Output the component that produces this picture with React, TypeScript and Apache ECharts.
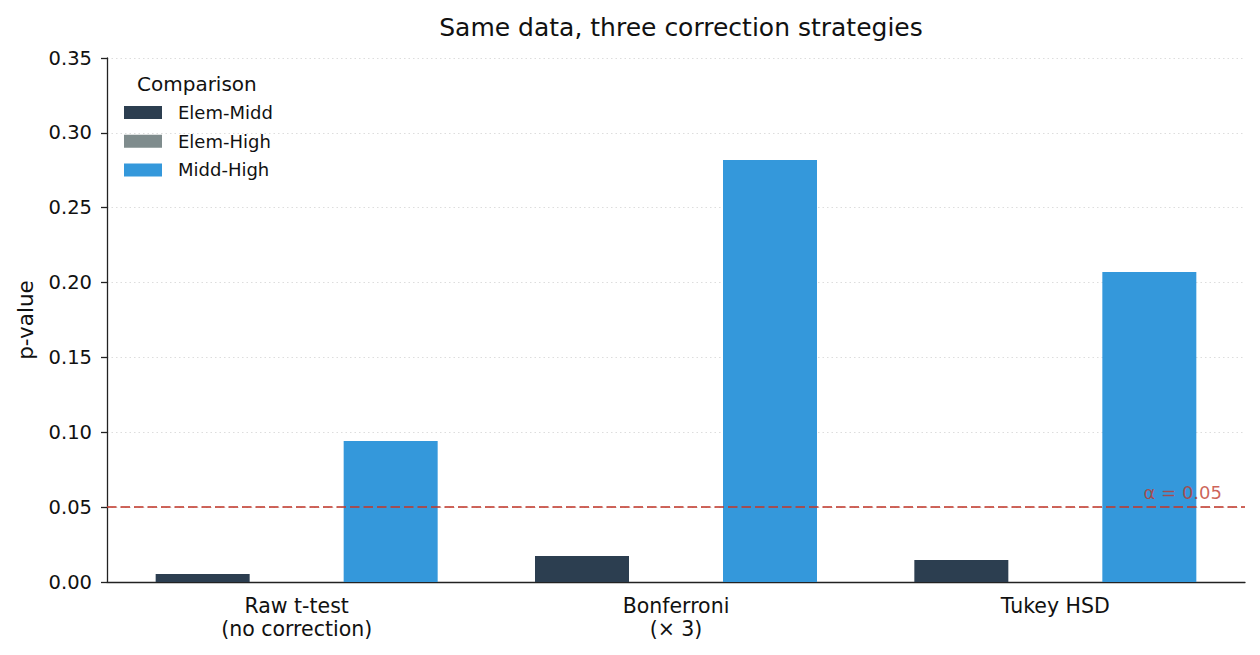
import React, { useEffect, useRef } from "react";
import * as echarts from "echarts";

const categories = ["Raw t-test\n(no correction)", "Bonferroni\n(× 3)", "Tukey HSD"];
const seriesNames = ["Elem-Midd", "Elem-High", "Midd-High"];
const elemMidd = [0.0053, 0.0174, 0.0147];
const elemHigh = [0.00002, 0.00006, 0.00005];
const middHigh = [0.0942, 0.2819, 0.2071];
const colors = ["#2c3e50", "#7f8c8d", "#3498db"];
const alpha = 0.05;
const yTicks = { min: 0, max: 0.35, interval: 0.05 };

export default function App() {
  const ref = useRef<HTMLDivElement>(null);
  useEffect(() => {
    if (!ref.current) return;
    const chart = echarts.init(ref.current, null, { renderer: "svg" });
    const font = "DejaVu Sans";
    const values = [elemMidd, elemHigh, middHigh];
    chart.setOption({
      animation: false,
      textStyle: { fontFamily: font },
      title: {
        text: "Same data, three correction strategies",
        left: 676,
        top: 10,
        textAlign: "center",
        textStyle: { fontFamily: font, fontSize: 25, fontWeight: "normal", color: "#111" },
      },
      graphic: [
        {
          type: "text",
          left: 137,
          top: 74,
          style: { text: "Comparison", fontFamily: font, fontSize: 20, fill: "#111" },
        },
      ],
      legend: {
        orient: "vertical",
        left: 119,
        top: 98.5,
        itemWidth: 38,
        itemHeight: 13,
        itemGap: 10.7,
        icon: "rect",
        data: seriesNames,
        textStyle: { fontFamily: font, fontSize: 18, color: "#111", padding: [0, 0, 0, 11] },
      },
      grid: { left: 107, right: 15, top: 58, bottom: 73 },
      xAxis: {
        type: "category",
        data: categories,
        axisLine: { lineStyle: { color: "#222", width: 1.3 } },
        axisTick: { alignWithLabel: true, length: 6, lineStyle: { color: "#222", width: 1.3 } },
        axisLabel: { fontFamily: font, fontSize: 20.5, color: "#111", margin: 12, lineHeight: 23.5 },
      },
      yAxis: {
        type: "value",
        min: yTicks.min,
        max: yTicks.max,
        interval: yTicks.interval,
        name: "p-value",
        nameLocation: "middle",
        nameGap: 71,
        nameTextStyle: { fontFamily: font, fontSize: 21.5, color: "#111" },
        axisLine: { show: true, lineStyle: { color: "#222", width: 1.3 } },
        axisTick: { show: true, length: 6, lineStyle: { color: "#222", width: 1.3 } },
        axisLabel: {
          fontFamily: font,
          fontSize: 19.5,
          color: "#111",
          margin: 15,
          formatter: (v: number) => v.toFixed(2),
        },
        splitLine: { show: true, lineStyle: { color: "#dddddd", type: [1.5, 3], width: 1 } },
      },
      series: seriesNames.map((name, i) => ({
        name,
        type: "bar",
        data: values[i],
        barWidth: 94,
        barGap: "0%",
        itemStyle: { color: colors[i] },
        ...(i === 2
          ? {
              markLine: {
                symbol: "none",
                silent: true,
                z: 10,
                lineStyle: { color: "#c0392b", opacity: 0.78, type: [9.5, 4], width: 2 },
                label: {
                  show: true,
                  position: "insideEndTop",
                  formatter: "α = 0.05",
                  color: "#c0392b",
                  fontFamily: font,
                  fontSize: 18,
                  distance: [23, 6],
                },
                data: [{ yAxis: alpha }],
              },
            }
          : {}),
      })),
    });
    return () => chart.dispose();
  }, []);
  return (
    <div
      ref={ref}
      style={{ position: "fixed", left: 0, top: 0, width: 1260, height: 655, background: "#fff" }}
    />
  );
}
